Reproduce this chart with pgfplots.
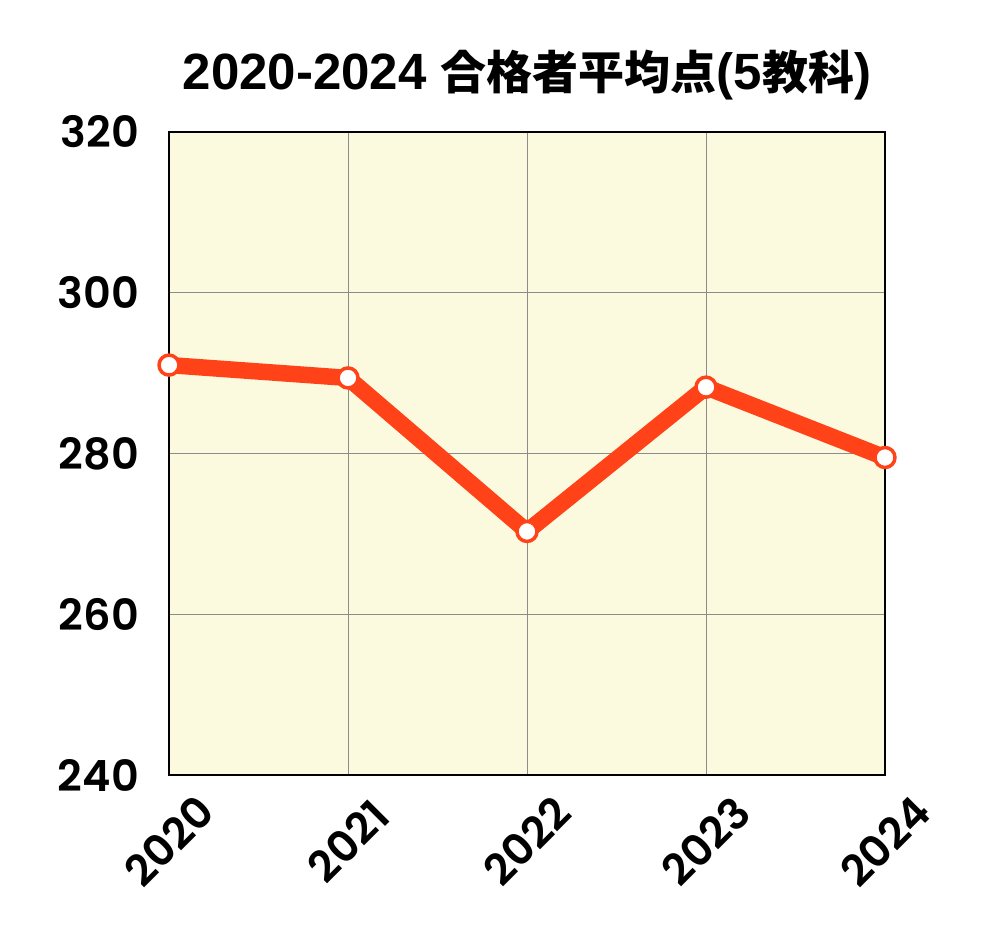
\documentclass[border=0pt]{standalone}
\usepackage{pgfplots}
\pgfplotsset{compat=1.18}
\usepackage{fontspec}
\setmainfont{Liberation Sans}
\newfontfamily\cjk{Noto Sans CJK JP}
\newfontfamily\numfont{Poppins SemiBold}
\definecolor{lineorange}{RGB}{255,66,24}
\definecolor{bgyellow}{RGB}{252,250,222}
\begin{document}
\begin{tikzpicture}
\begin{axis}[
  name=ax,
  scale only axis,
  width=716pt, height=643pt,
  xmin=2020, xmax=2024, ymin=240, ymax=320,
  xtick={2020,2021,2022,2023,2024},
  xticklabels={2020,2021,2022,2023,2024},
  ytick={240,260,280,300,320},
  grid=major,
  major grid style={draw=gray!90, line width=0.8pt},
  axis line style={line width=2.2pt, black},
  axis background/.style={fill=bgyellow},
  tick style={draw=none},
  /pgf/number format/assume math mode=true,
  yticklabel style={font=\fontsize{43}{43}\selectfont\numfont, inner sep=0pt, xshift=-30pt},
  xticklabel style={font=\fontsize{43}{43}\selectfont\numfont, rotate=45, anchor=center, inner sep=0pt},
  xticklabel shift=66pt,
  title={\fontsize{51}{51}\selectfont\bfseries 2020-2024 {\cjk\fontsize{46}{46}\selectfont\bfseries 合格者平均点}(5{\cjk\fontsize{46}{46}\selectfont\bfseries 教科})},
  title style={yshift=22pt},
  clip=false,
]
\addplot[color=lineorange, line width=16.5pt, line join=round,
  mark=*, mark size=10pt, mark options={fill=white, draw=lineorange, line width=3.5pt}]
  coordinates {(2020,291.0) (2021,289.4) (2022,270.3) (2023,288.25) (2024,279.5)};
\end{axis}
\pgfresetboundingbox
\path ([xshift=-169pt,yshift=-175pt]ax.south west) rectangle ([xshift=106pt,yshift=132pt]ax.north east);
\end{tikzpicture}
\end{document}
